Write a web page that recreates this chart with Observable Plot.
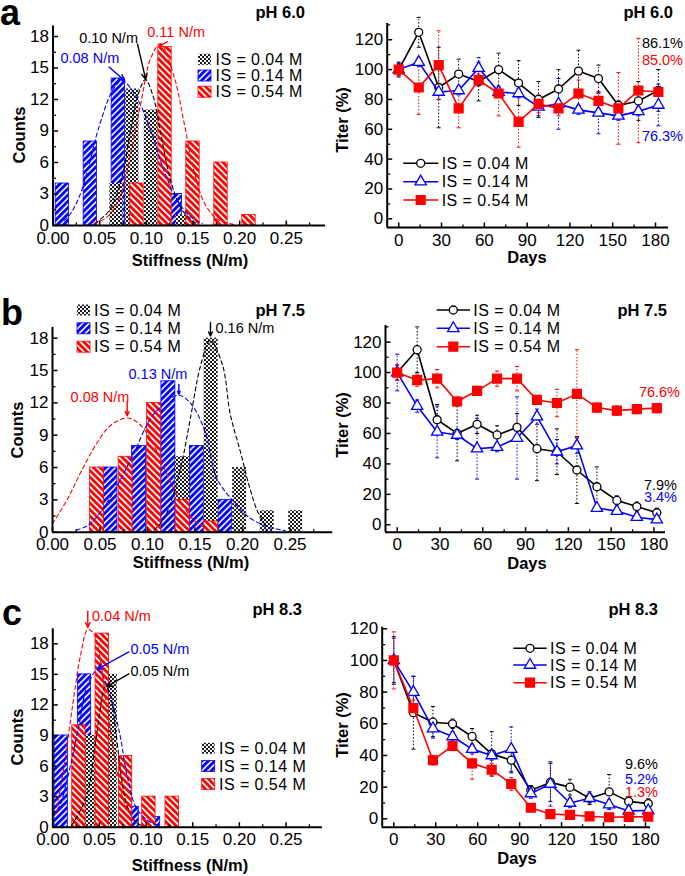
<!DOCTYPE html>
<html><head><meta charset="utf-8">
<script src="https://cdn.jsdelivr.net/npm/d3@7"></script>
<script src="https://cdn.jsdelivr.net/npm/@observablehq/plot@0.6"></script>
<style>
html,body{margin:0;padding:0;background:#fff;}
#fig{position:relative;width:685px;height:876px;overflow:hidden;background:#fff;font-family:"Liberation Sans",Arial,Helvetica,sans-serif;}
#fig svg{max-width:none;}
</style></head><body>
<div id="fig"></div>
<script>
// ================= DATA =================
const isLabels = ["IS = 0.04 M", "IS = 0.14 M", "IS = 0.54 M"];

// ---- histograms: bin centres (N/m) and counts ----
// pH 6.0
const aStiff04 = [0.068, 0.085, 0.105, 0.139];
const aCount04 = [4, 13, 11, 1];
const aStiff14 = [0.010, 0.040, 0.070, 0.131];
const aCount14 = [4, 8, 14, 3];
const aStiff54 = [0.090, 0.120, 0.150, 0.180, 0.210];
const aCount54 = [4, 17, 8, 6, 1];
// pH 7.5
const bStiff04 = [0.137, 0.167, 0.197, 0.226, 0.256];
const bCount04 = [7, 18, 6, 2, 2];
const bStiff14 = [0.061, 0.091, 0.122, 0.152, 0.182];
const bCount14 = [6, 8, 14, 8, 3];
const bStiff54 = [0.047, 0.077, 0.107, 0.137, 0.167];
const bCount54 = [6, 7, 12, 3, 1];
// pH 8.3
const cStiff04 = [0.042, 0.062];
const cCount04 = [9, 15];
const cStiff14 = [0.009, 0.034, 0.085, 0.108];
const cCount14 = [9, 15, 2, 1];
const cStiff54 = [0.028, 0.053, 0.078, 0.103, 0.128];
const cCount54 = [10, 19, 7, 3, 3];

// ---- fitted curves, points [stiffness, count] ----
const aFit04 = [[0.045,0.2],[0.060,1.4],[0.073,4.3],[0.083,9.0],[0.091,12.4],[0.099,13.9],[0.107,12.4],[0.115,9.0],[0.126,4.3],[0.139,1.4],[0.153,0.2]];
const aFit14 = [[0.005,0.2],[0.014,0.6],[0.027,2.5],[0.039,5.9],[0.048,9.0],[0.064,12.9],[0.074,13.8],[0.090,12.1],[0.105,9.0],[0.119,5.2],[0.133,2.4],[0.148,0.8],[0.160,0.2]];
const aFit54 = [[0.044,0.2],[0.058,0.8],[0.073,3.0],[0.083,6.8],[0.094,11.6],[0.105,16.0],[0.115,17.3],[0.130,14.1],[0.140,10.0],[0.151,5.2],[0.162,2.2],[0.176,0.6],[0.194,0.1]];
const bFit04 = [[0.107,0.2],[0.117,1.2],[0.128,3.7],[0.137,6.8],[0.145,10.5],[0.156,15.5],[0.166,17.8],[0.179,15.5],[0.187,11.0],[0.198,7.4],[0.207,4.3],[0.216,1.9],[0.226,0.4]];
const bFit14 = [[0.025,0.2],[0.037,0.6],[0.051,1.9],[0.068,4.3],[0.086,7.4],[0.103,10.5],[0.121,12.2],[0.133,12.7],[0.145,12.0],[0.160,9.5],[0.173,5.0],[0.191,2.8],[0.205,1.5],[0.226,0.5],[0.245,0.15]];
const bFit54 = [[0.000,0.8],[0.016,3.1],[0.030,5.6],[0.047,8.3],[0.061,9.9],[0.079,10.6],[0.093,9.9],[0.107,8.0],[0.121,5.3],[0.135,2.8],[0.149,1.1],[0.163,0.3]];
const cFit04 = [[0.020,0.2],[0.024,0.7],[0.037,3.3],[0.046,8.5],[0.0565,13.8],[0.062,12.8],[0.068,9.0],[0.075,4.0],[0.080,2.0],[0.089,0.5],[0.097,0.1]];
const cFit14 = [[0.000,1.2],[0.007,2.0],[0.016,4.9],[0.027,9.5],[0.037,13.9],[0.048,15.4],[0.058,13.9],[0.071,9.5],[0.080,4.9],[0.089,2.0],[0.101,0.7],[0.112,0.2]];
const cFit54 = [[0.003,1.3],[0.012,5.9],[0.021,11.8],[0.030,17.0],[0.0375,19.4],[0.044,19.0],[0.051,16.4],[0.058,11.8],[0.067,6.5],[0.076,2.6],[0.087,0.7]];

// ---- peak annotations (text start, arrow from -> to) ----
const aNotes = [
  {label:"0.10 N/m", tx:0.028, ty:17.8, x1:0.0905, y1:17.3, x2:0.0994, y2:13.9, color:"black"},
  {label:"0.08 N/m", tx:0.008, ty:15.9, x1:0.060, y1:15.1, x2:0.0768, y2:13.8, color:"blue"},
  {label:"0.11 N/m", tx:0.101, ty:18.4, x1:0.1226, y1:17.5, x2:0.1136, y2:17.05, color:"red"}
];
const bNotes = [
  {label:"0.16 N/m", tx:0.1716, ty:18.9, x1:0.1663, y1:19.45, x2:0.1663, y2:18.2, color:"black"},
  {label:"0.13 N/m", tx:0.080, ty:14.6, x1:0.133, y1:13.7, x2:0.133, y2:12.8, color:"blue"},
  {label:"0.08 N/m", tx:0.019, ty:12.5, x1:0.0786, y1:12.1, x2:0.0786, y2:10.8, color:"red"}
];
const cNotes = [
  {label:"0.04 N/m", tx:0.042, ty:20.7, x1:0.0375, y1:21.2, x2:0.0375, y2:19.6, color:"red"},
  {label:"0.05 N/m", tx:0.0833, ty:17.5, x1:0.0815, y1:17.2, x2:0.0476, y2:15.5, color:"blue"},
  {label:"0.05 N/m", tx:0.0833, ty:15.3, x1:0.0815, y1:15.05, x2:0.0576, y2:13.8, color:"black"}
];

// ---- titer vs days ----
const days = [0, 14, 28, 42, 56, 70, 84, 98, 112, 126, 140, 154, 168, 182];
// pH 6.0
const aTiter04 = [100, 125, 88, 97, 92, 100, 91, 80, 87, 99, 94, 76, 79, 86.1];
const aErr04   = [5, 10, 27, 10, 13, 11, 15, 12, 13, 14, 9, 3, 13, 14];
const aTiter14 = [100, 105, 85, 86, 101, 85, 84, 75, 77, 73, 71, 69, 72, 76.3];
const aErr14   = [4, 3, 5, 3, 7, 3, 3, 6, 17, 3, 14, 3, 3, 14];
const aTiter54 = [100, 88, 103, 74, 93, 84, 65, 77, 74, 84, 79, 74, 86, 85.0];
const aErr54   = [4, 18, 23, 13, 4, 15, 17, 6, 5, 9, 5, 24, 35, 3];
// pH 7.5
const bTiter04 = [100, 115, 69, 60, 66, 59, 64, 50, 48, 36, 25, 16, 12, 7.9];
const bErr04   = [5, 15, 10, 18, 6, 6, 9, 21, 15, 22, 13, 3, 3, 3];
const bTiter14 = [100, 78, 61, 59, 50, 51, 57, 71, 48, 52, 11, 9, 5, 3.4];
const bErr14   = [12, 4, 17, 3, 20, 3, 27, 5, 8, 5, 2, 2, 2, 2];
const bTiter54 = [100, 95, 96, 81, 88, 96, 96, 82, 80, 86, 77, 75, 76, 76.6];
const bErr54   = [5, 4, 6, 3, 3, 5, 8, 3, 9, 29, 3, 3, 3, 3];
// pH 8.3
const cTiter04 = [100, 67, 61, 60, 52, 41, 37, 18, 23, 20, 13, 17, 11, 9.6];
const cErr04   = [15, 23, 10, 3, 5, 14, 8, 3, 12, 5, 4, 11, 3, 3];
const cTiter14 = [100, 80, 57, 52, 44, 40, 44, 16, 22, 10, 13, 9, 5, 5.2];
const cErr14   = [14, 10, 5, 3, 3, 3, 14, 3, 14, 3, 3, 3, 3, 3];
const cTiter54 = [100, 70, 37, 46, 35, 31, 22, 7, 3, 2.5, 1.5, 1, 1.2, 1.3];
const cErr54   = [18, 5, 3, 3, 10, 4, 4, 2, 2, 2, 2, 2, 2, 2];

// ---- end-point percentages ----
const aPct = ["86.1%", "85.0%", "76.3%"];
const bPct = ["76.6%", "7.9%", "3.4%"];
const cPct = ["9.6%", "5.2%", "1.3%"];

// ---- tick values ----
const stiffTicks = [0, 0.05, 0.10, 0.15, 0.20, 0.25];
const stiffMinor = [0.025, 0.075, 0.125, 0.175, 0.225, 0.275];
const countTicks = [0, 3, 6, 9, 12, 15, 18];
const countMinor = [1.5, 4.5, 7.5, 10.5, 13.5, 16.5];
const dayTicks = [0, 30, 60, 90, 120, 150, 180];
const dayMinor = [15, 45, 75, 105, 135, 165];
const titerTicks = [0, 20, 40, 60, 80, 100, 120];
const titerMinor = [10, 30, 50, 70, 90, 110, 130];

// ================= STYLE =================
const FONT = '"Liberation Sans", Arial, Helvetica, sans-serif';
const histStyle = [
  {fill: "url(#patBlack)", stroke: "none", line: "black"},
  {fill: "url(#patBlue)", stroke: "blue", line: "blue"},
  {fill: "url(#patRed)", stroke: "red", line: "red"}
];
const lineStyle = [
  {color: "black", symbol: "circle", r: 4, fill: "white"},
  {color: "blue", symbol: "triangle", r: 4.2, fill: "white"},
  {color: "red", symbol: "square", r: 5, fill: "red"}
];
const seg = (dx, dy) => ({draw(ctx) { ctx.moveTo(0, 0); ctx.lineTo(dx, dy); }});
const cap = {draw(ctx) { ctx.moveTo(-2, 0); ctx.lineTo(2, 0); }};

const fig = d3.select("#fig");

function place(node, left, top) {
  fig.append("div").style("position", "absolute").style("left", left + "px").style("top", top + "px")
    .node().appendChild(node);
}

function axesMarks(xDom, yDom, xMajor, xMinor, yMajor, yMinor, xFmt, yFmt) {
  const inX = (arr) => arr.filter(v => v >= xDom[0] && v <= xDom[1]);
  const inY = (arr) => arr.filter(v => v >= yDom[0] && v <= yDom[1]);
  return [
    Plot.dot(inX(xMajor), {x: d => d, y: () => yDom[0], symbol: seg(0, -5), stroke: "black", fill: "none", strokeWidth: 1.5, r: 3}),
    Plot.dot(inX(xMinor), {x: d => d, y: () => yDom[0], symbol: seg(0, -3), stroke: "black", fill: "none", strokeWidth: 1.3, r: 3}),
    Plot.dot(inY(yMajor), {x: () => xDom[0], y: d => d, symbol: seg(5, 0), stroke: "black", fill: "none", strokeWidth: 1.5, r: 3}),
    Plot.dot(inY(yMinor), {x: () => xDom[0], y: d => d, symbol: seg(3, 0), stroke: "black", fill: "none", strokeWidth: 1.3, r: 3}),
    Plot.ruleY([yDom[0]], {stroke: "black", strokeWidth: 2}),
    Plot.ruleX([xDom[0]], {stroke: "black", strokeWidth: 2}),
    Plot.axisX({ticks: xMajor, tickSize: 0, tickPadding: 6, tickFormat: xFmt, label: null, fontSize: 17}),
    Plot.axisY({ticks: yMajor, tickSize: 0, tickPadding: 4, tickFormat: yFmt, label: null, fontSize: 17})
  ];
}

function histogram(c) {
  const sets = [
    c.stiff[0].map((x, i) => ({x, n: c.count[0][i]})),
    c.stiff[1].map((x, i) => ({x, n: c.count[1][i]})),
    c.stiff[2].map((x, i) => ({x, n: c.count[2][i]}))
  ];
  const bw = c.bw;
  const marks = [];
  for (const k of [1, 0, 2]) {
    marks.push(Plot.rect(sets[k], {x1: d => d.x - bw / 2, x2: d => d.x + bw / 2, y1: 0, y2: "n",
      fill: histStyle[k].fill, stroke: histStyle[k].stroke, strokeWidth: 0.8}));
  }
  c.fits.forEach((f, k) => {
    marks.push(Plot.line(f, {x: d => d[0], y: d => d[1], stroke: histStyle[k].line, strokeWidth: 1.1,
      strokeDasharray: "4,3", curve: "catmull-rom"}));
  });
  marks.push(Plot.arrow(c.notes, {x1: "x1", y1: "y1", x2: "x2", y2: "y2", stroke: d => d.color,
    strokeWidth: 1.4, headLength: 7, headAngle: 50}));
  marks.push(Plot.text(c.notes, {x: "tx", y: "ty", text: "label", fill: d => d.color, textAnchor: "start",
    lineAnchor: "middle", fontSize: 14.5}));
  marks.push(...axesMarks(c.xDom, c.yDom, stiffTicks, stiffMinor, countTicks, countMinor, ".2f", "d"));
  return Plot.plot({
    width: c.w, height: c.h, marginLeft: c.ml, marginRight: c.mr, marginTop: c.mt, marginBottom: c.mb,
    x: {domain: c.xDom}, y: {domain: c.yDom}, color: {type: "identity"},
    style: {fontFamily: FONT, fontSize: "17px", background: "white", overflow: "visible"},
    marks
  });
}

function titer(c) {
  const rows = c.vals.map(vals => days.map((d, i) => ({day: d, v: vals[i]})));
  rows.forEach((r, k) => r.forEach((o, i) => o.e = c.errs[k][i]));
  const marks = [];
  rows.forEach((r, k) => {
    const col = lineStyle[k].color;
    marks.push(Plot.ruleX(r, {x: "day", y1: d => d.v - d.e, y2: d => d.v + d.e, stroke: col, strokeWidth: 1, strokeDasharray: "1.5,1.8"}));
    marks.push(Plot.dot(r, {x: "day", y: d => d.v + d.e, symbol: cap, stroke: col, fill: "none", strokeWidth: 1, r: 2}));
    marks.push(Plot.dot(r, {x: "day", y: d => d.v - d.e, symbol: cap, stroke: col, fill: "none", strokeWidth: 1, r: 2}));
  });
  rows.forEach((r, k) => {
    const s = lineStyle[k];
    marks.push(Plot.line(r, {x: "day", y: "v", stroke: s.color, strokeWidth: 1.6}));
    marks.push(Plot.dot(r, {x: "day", y: "v", symbol: s.symbol, r: s.r, fill: s.fill, stroke: s.color, strokeWidth: 1.3}));
  });
  marks.push(...axesMarks(c.xDom, c.yDom, dayTicks, dayMinor, titerTicks, titerMinor, "d", "d"));
  return Plot.plot({
    width: c.w, height: c.h, marginLeft: c.ml, marginRight: c.mr, marginTop: c.mt, marginBottom: c.mb,
    x: {domain: c.xDom}, y: {domain: c.yDom},
    style: {fontFamily: FONT, fontSize: "17px", background: "white", overflow: "visible"},
    marks
  });
}

// ---------- panel a ----------
place(histogram({w: 340, h: 280, ml: 52.5, mr: 15, mt: 25.5, mb: 55, xDom: [0, 0.292], yDom: [0, 19], bw: 0.0143,
  stiff: [aStiff04, aStiff14, aStiff54], count: [aCount04, aCount14, aCount54], fits: [aFit04, aFit14, aFit54], notes: aNotes}), 0, 0);
place(titer({w: 345, h: 280, ml: 46.7, mr: 17, mt: 23, mb: 53, xDom: [-8.1, 189.1], yDom: [-5.83, 130.9],
  vals: [aTiter04, aTiter14, aTiter54], errs: [aErr04, aErr14, aErr54]}), 340, 0);
// ---------- panel b ----------
place(histogram({w: 340, h: 280, ml: 52, mr: 7.75, mt: 41.9, mb: 33.3, xDom: [0, 0.295], yDom: [0, 19], bw: 0.0147,
  stiff: [bStiff04, bStiff14, bStiff54], count: [bCount04, bCount14, bCount54], fits: [bFit04, bFit14, bFit54], notes: bNotes}), 0, 285);
place(titer({w: 345, h: 280, ml: 45, mr: 20, mt: 40, mb: 33.3, xDom: [-8.2, 188.1], yDom: [-4.86, 130.9],
  vals: [bTiter04, bTiter14, bTiter54], errs: [bErr04, bErr14, bErr54]}), 340, 285);
// ---------- panel c ----------
place(histogram({w: 340, h: 296, ml: 52.3, mr: 18.1, mt: 48.3, mb: 49.3, xDom: [0, 0.289], yDom: [0, 19.47], bw: 0.0143,
  stiff: [cStiff04, cStiff14, cStiff54], count: [cCount04, cCount14, cCount54], fits: [cFit04, cFit14, cFit54], notes: cNotes}), 0, 580);
place(titer({w: 345, h: 296, ml: 41.7, mr: 35, mt: 46.7, mb: 49.3, xDom: [-8.3, 183.6], yDom: [-5.3, 121.0],
  vals: [cTiter04, cTiter14, cTiter54], errs: [cErr04, cErr14, cErr54]}), 340, 580);

// ================= overlay: patterns, titles, legends =================
const ov = fig.append("svg").attr("width", 685).attr("height", 876)
  .style("position", "absolute").style("left", 0).style("top", 0).style("pointer-events", "none")
  .attr("font-family", FONT);
const defs = ov.append("defs");
const pk = defs.append("pattern").attr("id", "patBlack").attr("patternUnits", "userSpaceOnUse").attr("width", 4).attr("height", 4);
pk.append("rect").attr("width", 4).attr("height", 4).attr("fill", "#111");
pk.append("circle").attr("cx", 1).attr("cy", 1).attr("r", 1.15).attr("fill", "white");
pk.append("circle").attr("cx", 3).attr("cy", 3).attr("r", 1.15).attr("fill", "white");
const pb = defs.append("pattern").attr("id", "patBlue").attr("patternUnits", "userSpaceOnUse").attr("width", 4.5).attr("height", 4.5).attr("patternTransform", "rotate(45)");
pb.append("rect").attr("width", 4.5).attr("height", 4.5).attr("fill", "white");
pb.append("rect").attr("width", 2.9).attr("height", 4.5).attr("fill", "blue");
const pr = defs.append("pattern").attr("id", "patRed").attr("patternUnits", "userSpaceOnUse").attr("width", 4.6).attr("height", 4.6).attr("patternTransform", "rotate(-45)");
pr.append("rect").attr("width", 4.6).attr("height", 4.6).attr("fill", "white");
pr.append("rect").attr("width", 2.8).attr("height", 4.6).attr("fill", "red");

function txt(s, x, y, {size = 17, weight = "normal", anchor = "start", color = "black", rotate = 0, spacing = 0} = {}) {
  const t = ov.append("text").attr("x", x).attr("y", y).attr("dy", "0.35em").attr("font-size", size)
    .attr("font-weight", weight).attr("text-anchor", anchor).attr("fill", color).text(s);
  if (spacing) t.attr("letter-spacing", spacing);
  if (rotate) t.attr("transform", `rotate(${rotate},${x},${y})`);
}

// panel letters
txt("a", 0, 12.5, {size: 36, weight: "bold"});
txt("b", 1, 312.5, {size: 36, weight: "bold"});
txt("c", 2, 612.5, {size: 36, weight: "bold"});
// pH titles
txt("pH 6.0", 305, 12, {size: 16.5, weight: "bold", anchor: "end"});
txt("pH 6.0", 673, 12, {size: 16.5, weight: "bold", anchor: "end"});
txt("pH 7.5", 305, 310, {size: 16.5, weight: "bold", anchor: "end"});
txt("pH 7.5", 667, 310, {size: 16.5, weight: "bold", anchor: "end"});
txt("pH 8.3", 302, 609, {size: 16.5, weight: "bold", anchor: "end"});
txt("pH 8.3", 658, 609, {size: 16.5, weight: "bold", anchor: "end"});
// axis titles
txt("Counts", 19, 135, {size: 16.5, weight: "bold", anchor: "middle", rotate: -90});
txt("Counts", 17, 430, {size: 16.5, weight: "bold", anchor: "middle", rotate: -90});
txt("Counts", 17, 737, {size: 16.5, weight: "bold", anchor: "middle", rotate: -90});
txt("Stiffness (N/m)", 190, 260, {size: 16.5, weight: "bold", anchor: "middle"});
txt("Stiffness (N/m)", 191, 562, {size: 16.5, weight: "bold", anchor: "middle"});
txt("Stiffness (N/m)", 190, 865, {size: 16.5, weight: "bold", anchor: "middle"});
txt("Titer (%)", 342, 120, {size: 16.5, weight: "bold", anchor: "middle", rotate: -90});
txt("Titer (%)", 342, 425, {size: 16.5, weight: "bold", anchor: "middle", rotate: -90});
txt("Titer (%)", 342, 725, {size: 16.5, weight: "bold", anchor: "middle", rotate: -90});
txt("Days", 527, 257, {size: 16.5, weight: "bold", anchor: "middle"});
txt("Days", 527, 563, {size: 16.5, weight: "bold", anchor: "middle"});
txt("Days", 517, 858, {size: 16.5, weight: "bold", anchor: "middle"});

// end-point percentages
txt(aPct[0], 683, 43, {size: 14.5, anchor: "end", color: "black"});
txt(aPct[1], 683, 60, {size: 14.5, anchor: "end", color: "red"});
txt(aPct[2], 683, 136, {size: 14.5, anchor: "end", color: "blue"});
txt(bPct[0], 680, 392, {size: 14.5, anchor: "end", color: "red"});
txt(bPct[1], 677, 485, {size: 14.5, anchor: "end", color: "black"});
txt(bPct[2], 677, 497, {size: 14.5, anchor: "end", color: "blue"});
txt(cPct[0], 658, 764, {size: 14.5, anchor: "end", color: "black"});
txt(cPct[1], 658, 779, {size: 14.5, anchor: "end", color: "blue"});
txt(cPct[2], 658, 792, {size: 14.5, anchor: "end", color: "red"});

// histogram legends
function histLegend(x, ys, xt) {
  ys.forEach((y, k) => {
    ov.append("rect").attr("x", x).attr("y", y - 5.5).attr("width", 13).attr("height", 11)
      .attr("fill", histStyle[k].fill).attr("stroke", histStyle[k].stroke).attr("stroke-width", 0.8);
    txt(isLabels[k], xt, y, {size: 16, spacing: 0.45});
  });
}
histLegend(198, [59.3, 75.5, 91.7], 215.5);
histLegend(77, [310, 328.3, 346.7], 94);
histLegend(201.7, [748.3, 766, 784], 219);

// line legends
function lineLegend(x1, x2, xm, ys, xt) {
  ys.forEach((y, k) => {
    const s = lineStyle[k];
    ov.append("line").attr("x1", x1).attr("x2", x2).attr("y1", y).attr("y2", y).attr("stroke", s.color).attr("stroke-width", 1.6);
    const sym = s.symbol === "circle" ? d3.symbolCircle : s.symbol === "triangle" ? d3.symbolTriangle : d3.symbolSquare;
    ov.append("path").attr("d", d3.symbol(sym, Math.PI * s.r * s.r)()).attr("transform", `translate(${xm},${y})`)
      .attr("fill", s.fill).attr("stroke", s.color).attr("stroke-width", 1.3);
    txt(isLabels[k], xt, y, {size: 16, spacing: 0.45});
  });
}
lineLegend(403.3, 438.3, 420.7, [163.3, 181.7, 200], 441.7);
lineLegend(436.7, 470, 453.3, [310, 328.3, 346.7], 473.3);
lineLegend(513.3, 546.7, 530, [648.3, 665, 682.7], 550);
</script>
</body></html>
